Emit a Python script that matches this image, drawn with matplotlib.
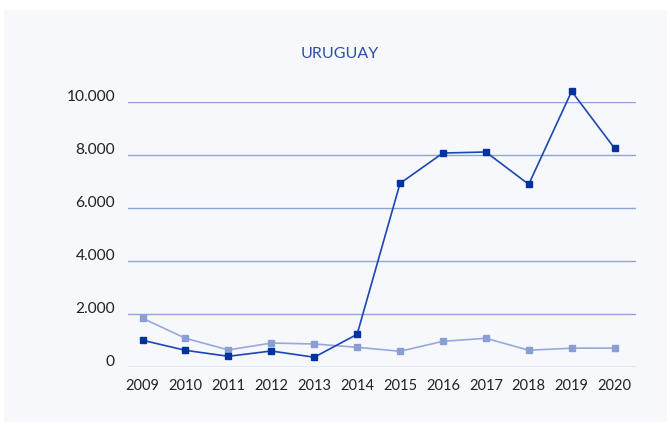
import matplotlib
matplotlib.use("Agg")
import matplotlib.pyplot as plt
import matplotlib.transforms as mtransforms
from matplotlib.patches import Rectangle

plt.rcParams['font.family'] = ['Lato', 'DejaVu Sans']

years = ['2009', '2010', '2011', '2012', '2013', '2014',
         '2015', '2016', '2017', '2018', '2019', '2020']
series_dark = [1020, 640, 415, 615, 380, 1245, 6940, 8085, 8125, 6905, 10415, 8265]
series_light = [1850, 1095, 655, 915, 880, 755, 605, 980, 1095, 645, 720, 725]
y_ticks = [0, 2000, 4000, 6000, 8000, 10000]

W, H = 670, 427
fig = plt.figure(figsize=(W / 100, H / 100), dpi=100)
fig.patch.set_facecolor('white')

# light panel behind the chart
fig.patches.append(Rectangle((4 / W, (H - 423) / H), (667 - 4) / W, (423 - 11) / H,
                             transform=fig.transFigure, facecolor='#F6F8FC',
                             edgecolor='none', zorder=-10))

ax = fig.add_axes([128 / W, (H - 368.3) / H, (636 - 128) / W, 265 / H])
ax.set_facecolor('none')
for s in ax.spines.values():
    s.set_visible(False)

ax.set_ylim(0, 10000)
ax.set_xlim(-0.34, len(years) - 0.5)

grid_col = '#8EA3DA'
for v in y_ticks:
    ax.axhline(v, color=grid_col, lw=1.0, zorder=1)

x = list(range(len(years)))
ax.plot(x, series_light, color='#97A9DC', lw=1.2, marker='s', ms=5,
        mfc='#8A9ED6', mec='#8A9ED6', zorder=3, clip_on=False)
ax.plot(x, series_dark, color='#1E46B2', lw=1.2, marker='s', ms=5,
        mfc='#0033A0', mec='#0033A0', zorder=4, clip_on=False)

ax.set_yticks([])
ax.set_xticks(x)
ax.set_xticklabels(years, fontsize=10.5, color='#222222')
ax.tick_params(axis='x', length=0, pad=8)

# y labels sit just above their gridlines
lab_tr = mtransforms.offset_copy(ax.get_yaxis_transform(), fig=fig, x=-13, y=2, units='dots')
for v in y_ticks:
    ax.text(0, v, f"{v:,}".replace(',', '.'), transform=lab_tr, ha='right',
            va='baseline', fontsize=11.2, color='#222222')

fig.text(340 / W, (H - 54) / H, 'URUGUAY', ha='center', va='center',
         fontsize=11.5, color='#2B4DAE')

fig.savefig('out.png', dpi=100)
